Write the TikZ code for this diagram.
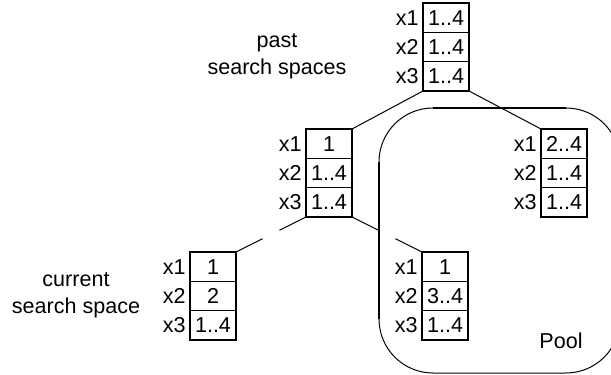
\documentclass[tikz,border=0pt]{standalone}
\usepackage{fontspec}
\setmainfont{Liberation Sans}
\usetikzlibrary{positioning,calc}

\tikzset{
  dom/.style={draw, line width=0.45pt, inner sep=0pt, outer sep=0pt,
    minimum width=20.7pt, minimum height=13.2pt},
  var/.style={inner sep=0pt, outer sep=0pt},
}
% one search space: name, top centre, domains of x1, x2, x3
\newcommand{\sspace}[5]{%
  \node[dom, anchor=north] (#1-1) at (#2) {#3};
  \node[dom, anchor=north] (#1-2) at (#1-1.south) {#4};
  \node[dom, anchor=north] (#1-3) at (#1-2.south) {#5};
  \foreach \i in {1,2,3}
    \node[var, left=2pt of #1-\i] (#1-v\i) {x\i};
  \draw[line width=0.9pt] (#1-1.north west) rectangle (#1-3.south east);
}

\begin{document}
\begin{tikzpicture}[x=0.45pt, y=0.45pt, line width=0.45pt,
  font=\fontsize{9.7}{12.3}\selectfont]
\useasboundingbox (0,0) rectangle (611,374);
% the pool
\draw[rounded corners=24.3pt] (379,1) rectangle (620,266);
\draw[line width=1.3pt] (433,266) -- (566,266);
\draw[line width=1.3pt] (379,212) -- (379,55);
\node (pool) at (561,33) {Pool};
\node[align=center] (past) at (277,318) {past\\search spaces};
\node[align=center] (current) at (76,79) {current\\search space};
% search spaces
\sspace{root}{446,371}{1..4}{1..4}{1..4}
\sspace{mid}{329,245}{1}{1..4}{1..4}
\sspace{right}{564,245}{2..4}{1..4}{1..4}
\sspace{cur}{213,122}{1}{2}{1..4}
\sspace{low}{445,122}{1}{3..4}{1..4}
% edges
\draw (root-3.south west) -- (mid-1.north east);
\draw (root-3.south east) -- (right-1.north west);
\draw (mid-3.south west) -- ($(mid-3.south west)!0.38!(cur-1.north east)$)
  ($(mid-3.south west)!0.62!(cur-1.north east)$) -- (cur-1.north east);
\draw (mid-3.south east) -- ($(mid-3.south east)!0.38!(low-1.north west)$)
  ($(mid-3.south east)!0.62!(low-1.north west)$) -- (low-1.north west);
\end{tikzpicture}
\end{document}
